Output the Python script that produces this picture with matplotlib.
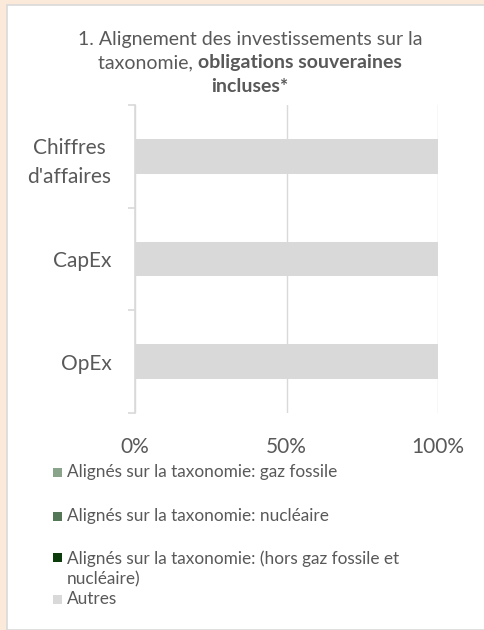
import matplotlib.pyplot as plt
import numpy as np
from matplotlib.patches import Rectangle

plt.rcParams['font.family'] = ['Lato', 'DejaVu Sans']

categories = ["Chiffres\nd'affaires", 'CapEx', 'OpEx']
series = [
    'Alignés sur la taxonomie: gaz fossile',
    'Alignés sur la taxonomie: nucléaire',
    'Alignés sur la taxonomie: (hors gaz fossile et\nnucléaire)',
    'Autres',
]
values = [
    [0, 0, 0],
    [0, 0, 0],
    [0, 0, 0],
    [100, 100, 100],
]
colors = ['#8AA48B', '#547857', '#0C3B0C', '#D9D9D9']
xticks = [0, 50, 100]
xticklabels = ['0%', '50%', '100%']

txt = '#595959'
W, H = 484, 630
fig = plt.figure(figsize=(W / 100, H / 100), dpi=100, facecolor='#FBE9DA')

# white panel with grey frame
fig.add_artist(Rectangle((7 / W, 0), 1, 1 - 5 / H, transform=fig.transFigure,
                         facecolor='white', edgecolor='#D9D9D9', lw=1.2, zorder=-10))

ax = fig.add_axes([135 / W, 1 - 413 / H, 303 / W, 308 / H])
ax.set_facecolor('none')

y = np.arange(len(categories))
left = np.zeros(len(categories))
for name, vals, c in zip(series, values, colors):
    vals = np.array(vals, dtype=float)
    ax.barh(y, vals, left=left, height=0.34, color=c, label=name)
    left += vals

ax.set_xlim(0, 100)
ax.set_ylim(len(categories) - 0.5, -0.5)
ax.set_xticks(xticks)
ax.set_xticklabels(xticklabels)
ax.set_yticks(y)
ax.set_yticklabels(categories, ha='right', multialignment='center')
for lbl in ax.get_yticklabels():
    lbl.set_linespacing(1.55)
ax.set_yticks(np.arange(len(categories) + 1) - 0.5, minor=True)

ax.xaxis.grid(True, color='#D9D9D9', lw=1)
ax.set_axisbelow(True)
for s in ['top', 'right', 'bottom']:
    ax.spines[s].set_visible(False)
ax.spines['left'].set_color('#D9D9D9')
ax.spines['left'].set_linewidth(1.2)

ax.tick_params(axis='x', length=0, pad=17, labelsize=15, labelcolor=txt)
ax.tick_params(axis='y', which='major', length=0, pad=17, labelsize=15, labelcolor=txt)
ax.tick_params(axis='y', which='minor', length=5, width=1.2, color='#D9D9D9')

# title with bold part
cx = 250 / W
tfs = 14
fig.text(cx, 1 - 45 / H, '1. Alignement des investissements sur la', ha='center',
         va='baseline', fontsize=tfs, color=txt)
t1 = fig.text(0, 1 - 68 / H, 'taxonomie, ', ha='left', va='baseline', fontsize=tfs, color=txt)
t2 = fig.text(0, 1 - 68 / H, 'obligations souveraines', ha='left', va='baseline',
              fontsize=tfs, color=txt, weight='bold')
fig.text(cx, 1 - 92 / H, 'incluses*', ha='center', va='baseline', fontsize=tfs,
         color=txt, weight='bold')
r = fig.canvas.get_renderer()
w1 = t1.get_window_extent(r).width / W
w2 = t2.get_window_extent(r).width / W
x0 = cx - (w1 + w2) / 2
t1.set_x(x0)
t2.set_x(x0 + w1)

# legend
leg_y = [472, 516, 557, 599]
for name, c, ly in zip(series, colors, leg_y):
    fig.add_artist(Rectangle((53 / W, 1 - (ly + 4.5) / H), 9 / W, 9 / H,
                             transform=fig.transFigure, facecolor=c, edgecolor='none'))
    yy = ly + 11.5 if '\n' in name else ly
    fig.text(67 / W, 1 - yy / H, name, ha='left', va='center',
             fontsize=12.4, color=txt, linespacing=1.32)

fig.savefig('out.png', dpi=100, facecolor=fig.get_facecolor())
